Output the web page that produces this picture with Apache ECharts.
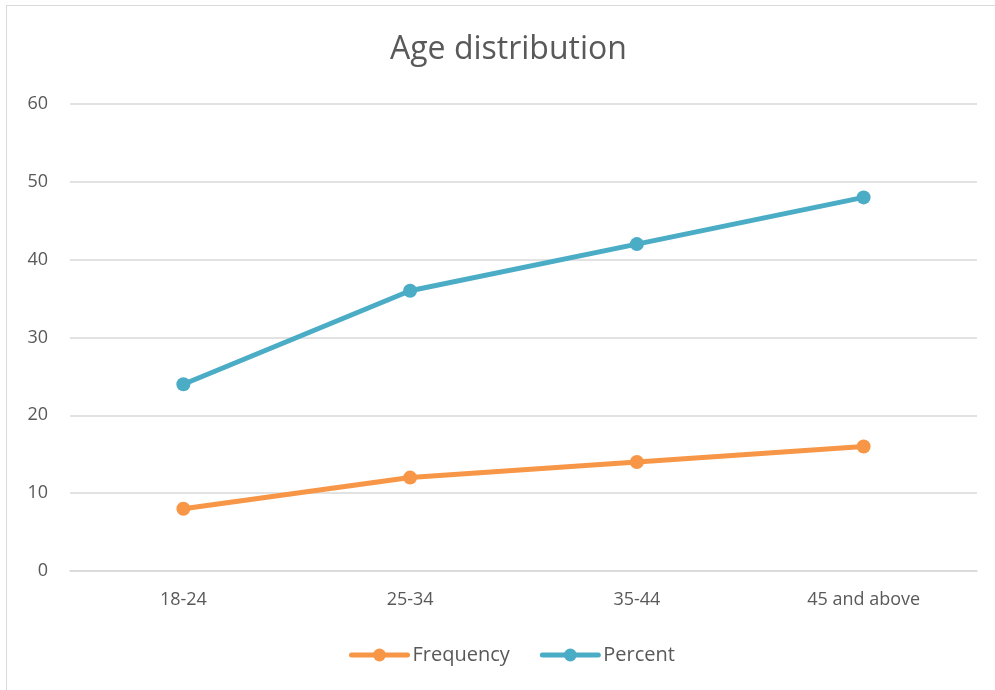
<!DOCTYPE html>
<html>
<head>
<meta charset="utf-8">
<script src="https://cdn.jsdelivr.net/npm/echarts@6/dist/echarts.min.js"></script>
<style>
  html, body { margin: 0; padding: 0; background: #fff; }
  #frame { position: absolute; left: 6px; top: 5px; width: 995px; height: 700px;
           border: 1px solid #d9d9d9; box-sizing: border-box; }
  #chart { position: absolute; left: 0; top: 0; width: 995px; height: 690px; }
</style>
</head>
<body>
<div id="frame"></div>
<div id="chart"></div>
<script>
// Age groups and the two measured series
const categories = ['18-24', '25-34', '35-44', '45 and above'];
const frequency = [8, 12, 14, 16];
const percent = [24, 36, 42, 48];
const yTicks = { min: 0, max: 60, interval: 10 };

const font = '"Open Sans", "Liberation Sans", sans-serif';
const textColor = '#595959';

const chart = echarts.init(document.getElementById('chart'), null, { renderer: 'canvas' });

function lineSeries(name, data, color) {
  return {
    name: name,
    type: 'line',
    data: data,
    symbol: 'circle',
    symbolSize: 14,
    lineStyle: { width: 5, color: color, cap: 'round' },
    itemStyle: { color: color },
    emphasis: { disabled: true },
    animation: false
  };
}

chart.setOption({
  animation: false,
  title: {
    text: 'Age distribution',
    left: 385,
    top: 29,
    textStyle: { fontFamily: font, fontSize: 32, fontWeight: 'normal', color: textColor }
  },
  legend: {
    bottom: 20,
    left: 344,
    itemWidth: 56,
    itemHeight: 16,
    itemGap: 30,
    lineStyle: { width: 5, cap: 'round' },
    textStyle: { fontFamily: font, fontSize: 20, color: textColor },
    data: ['Frequency', 'Percent']
  },
  grid: { left: 70, right: 18, top: 104, bottom: 119, containLabel: false },
  xAxis: {
    type: 'category',
    data: categories,
    boundaryGap: true,
    axisLine: { show: true, lineStyle: { color: '#d9d9d9', width: 1.5 } },
    axisTick: { show: false },
    axisLabel: { fontFamily: font, fontSize: 18, color: textColor, margin: 20 }
  },
  yAxis: {
    type: 'value',
    min: yTicks.min,
    max: yTicks.max,
    interval: yTicks.interval,
    axisLine: { show: false },
    axisTick: { show: false },
    splitLine: { lineStyle: { color: '#d9d9d9', width: 1.5 } },
    axisLabel: { fontFamily: font, fontSize: 18, color: textColor, margin: 22 }
  },
  series: [
    lineSeries('Frequency', frequency, '#F79646'),
    lineSeries('Percent', percent, '#4BACC6')
  ]
});
</script>
</body>
</html>
